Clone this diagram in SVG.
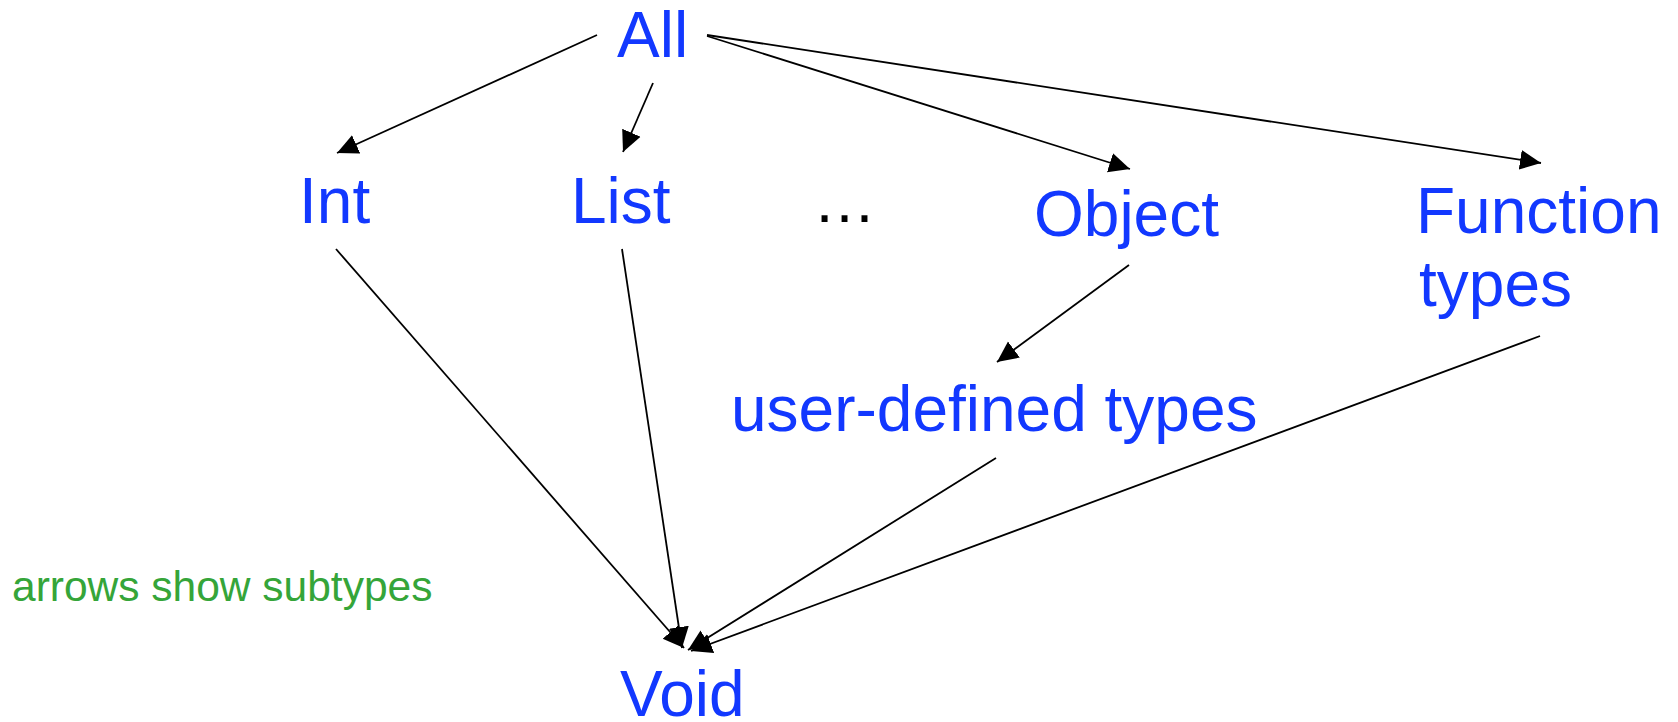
<svg xmlns="http://www.w3.org/2000/svg" width="1678" height="722" viewBox="0 0 1678 722">
<style>
.lbl{font-family:"Liberation Sans",Arial,sans-serif;font-size:64px;fill:#1238ff}
.note{font-family:"Liberation Sans",Arial,sans-serif;font-size:42.5px;fill:#35a539}
.dots{font-family:"Liberation Sans",Arial,sans-serif;font-size:63px;fill:#000}
.edge{stroke:#000;stroke-width:1.8;fill:none;marker-end:url(#ah)}
</style>
<defs>
<marker id="ah" markerUnits="userSpaceOnUse" markerWidth="22" markerHeight="22" viewBox="0 0 22 22" refX="21" refY="11" orient="auto">
<path d="M0,1 L21,11 L0,21 Z" fill="#000"/>
</marker>
</defs>
<rect width="1678" height="722" fill="#fff"/>
<g id="connectors">
<line class="edge" x1="597" y1="35" x2="337" y2="153"/>
<line class="edge" x1="653" y1="83" x2="623" y2="152"/>
<line class="edge" x1="707" y1="36" x2="1130" y2="169"/>
<line class="edge" x1="707" y1="35" x2="1541" y2="163"/>
<line class="edge" x1="336" y1="249" x2="684" y2="648"/>
<line class="edge" x1="622" y1="249" x2="682" y2="648"/>
<line class="edge" x1="1129" y1="265" x2="997" y2="362"/>
<line class="edge" x1="996" y1="458" x2="688" y2="650"/>
<line class="edge" x1="1540" y1="336" x2="691" y2="651"/>
</g>
<g id="node-all"><text class="lbl" x="617" y="57">All</text></g>
<g id="node-int"><text class="lbl" x="299" y="223">Int</text></g>
<g id="node-list"><text class="lbl" x="571" y="223">List</text></g>
<g id="node-ellipsis"><text class="dots" x="813" y="222">…</text></g>
<g id="node-object"><text class="lbl" x="1034" y="236">Object</text></g>
<g id="node-function"><text class="lbl" x="1416" y="233">Function</text><text class="lbl" x="1419" y="306">types</text></g>
<g id="node-user"><text class="lbl" x="731" y="431">user-defined types</text></g>
<g id="node-void"><text class="lbl" x="620" y="716">Void</text></g>
<g id="note"><text class="note" x="12" y="601">arrows show subtypes</text></g>
</svg>
